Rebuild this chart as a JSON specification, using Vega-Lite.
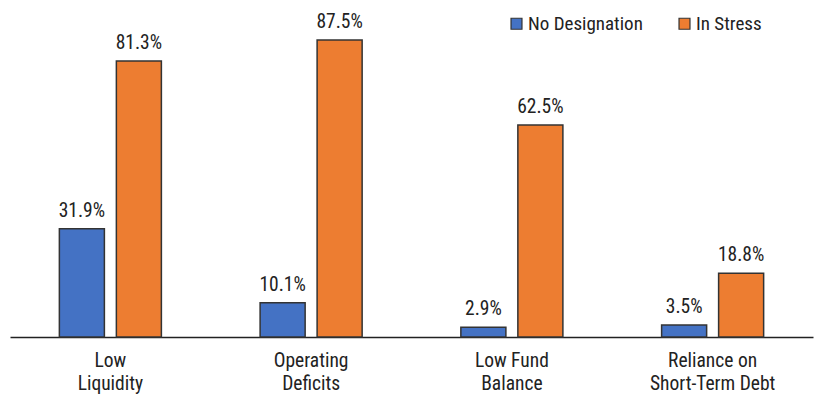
{
  "$schema": "https://vega.github.io/schema/vega-lite/v6.json",
  "width": 803,
  "height": 337,
  "autosize": {"type": "none"},
  "padding": {"left": 10, "top": 0, "right": 9, "bottom": 66},
  "background": "white",
  "config": {
    "view": {"stroke": null},
    "font": "Roboto Condensed",
    "text": {"font": "Roboto Condensed"}
  },
  "data": {
    "values": [
      {"category": "Low Liquidity", "series": "No Designation", "value": 31.9},
      {"category": "Low Liquidity", "series": "In Stress", "value": 81.3},
      {"category": "Operating Deficits", "series": "No Designation", "value": 10.1},
      {"category": "Operating Deficits", "series": "In Stress", "value": 87.5},
      {"category": "Low Fund Balance", "series": "No Designation", "value": 2.9},
      {"category": "Low Fund Balance", "series": "In Stress", "value": 62.5},
      {"category": "Reliance on Short-Term Debt", "series": "No Designation", "value": 3.5},
      {"category": "Reliance on Short-Term Debt", "series": "In Stress", "value": 18.8}
    ]
  },
  "encoding": {
    "x": {
      "field": "category",
      "type": "nominal",
      "sort": null,
      "scale": {"paddingInner": 0, "paddingOuter": 0},
      "axis": {
        "title": null,
        "labelAngle": 0,
        "ticks": false,
        "domainColor": "#222222",
        "domainWidth": 1.5,
        "labelFont": "Roboto Condensed",
        "labelFontSize": 19.5,
        "labelColor": "#222222",
        "labelPadding": 14,
        "labelBaseline": "top",
        "labelLineHeight": 23,
        "labelExpr": "datum.label == 'Low Liquidity' ? ['Low','Liquidity'] : datum.label == 'Operating Deficits' ? ['Operating','Deficits'] : datum.label == 'Low Fund Balance' ? ['Low Fund','Balance'] : ['Reliance on','Short-Term Debt']"
      }
    },
    "xOffset": {
      "field": "series",
      "type": "nominal",
      "sort": ["No Designation", "In Stress"],
      "scale": {"paddingInner": 0.21, "paddingOuter": 0.866}
    },
    "y": {
      "field": "value",
      "type": "quantitative",
      "scale": {"domain": [0, 99.3], "nice": false},
      "axis": null
    }
  },
  "layer": [
    {
      "mark": {"type": "bar", "stroke": "#333333", "strokeWidth": 1.5},
      "encoding": {
        "color": {
          "field": "series",
          "type": "nominal",
          "sort": ["No Designation", "In Stress"],
          "scale": {"domain": ["No Designation", "In Stress"], "range": ["#4472C4", "#ED7D31"]},
          "legend": {
            "title": null,
            "orient": "none",
            "legendX": 497,
            "legendY": 14,
            "direction": "horizontal",
            "symbolType": "square",
            "symbolSize": 120,
            "symbolStrokeColor": "#333333",
            "symbolStrokeWidth": 1.2,
            "labelFont": "Roboto Condensed",
            "labelFontSize": 19,
            "labelColor": "#222222",
            "labelOffset": 2,
            "columnPadding": 32
          }
        }
      }
    },
    {
      "mark": {"type": "text", "baseline": "bottom", "dy": -8, "fontSize": 19.5, "font": "Roboto Condensed", "color": "#222222", "text": {"expr": "format(datum.value, '.1f') + '%'"}},
      "encoding": {}
    }
  ]
}
